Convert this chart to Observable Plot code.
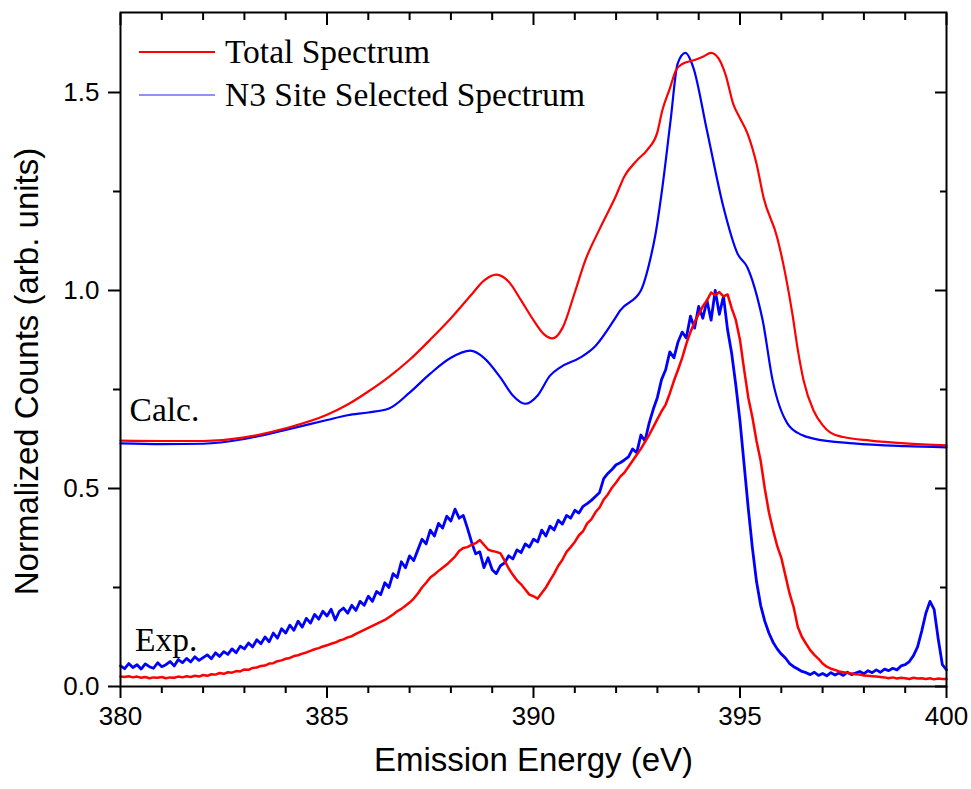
<!DOCTYPE html>
<html><head><meta charset="utf-8">
<script src="https://cdn.jsdelivr.net/npm/d3@7"></script>
<script src="https://cdn.jsdelivr.net/npm/@observablehq/plot@0.6"></script>
<style>
body{margin:0;background:#fff;}
#wrap{position:relative;width:971px;height:789px;}
#legend{position:absolute;left:0;top:0;pointer-events:none;}
</style></head><body><div id="wrap"></div>
<script>
// ---------- Calculated spectra ----------
const calcTotalEnergy = [380,381,382,383,384,385,385.5,386,386.5,387,387.5,388,388.5,388.8,389.1,389.4,389.7,390,390.25,390.46,390.7,391,391.25,391.6,392,392.2,392.5,392.76,393,393.12,393.3,393.45,393.6,393.9,394.1,394.3,394.48,394.65,394.84,395.0,395.18,395.4,395.57,395.9,396.1,396.27,396.4,396.54,396.78,397.0,397.19,397.5,398.16,399,400];
const calcTotal = [0.621,0.620,0.620,0.629,0.652,0.686,0.712,0.745,0.782,0.825,0.876,0.930,0.990,1.025,1.040,1.022,0.975,0.925,0.890,0.879,0.905,0.995,1.075,1.155,1.240,1.288,1.328,1.356,1.400,1.455,1.510,1.556,1.572,1.582,1.590,1.600,1.586,1.545,1.470,1.435,1.397,1.320,1.235,1.134,1.040,0.940,0.850,0.773,0.697,0.660,0.641,0.630,0.621,0.614,0.609];

const calcSiteEnergy = [380,381,382,383,384,385,385.5,386,386.5,387,387.5,388,388.47,388.8,389.2,389.5,389.8,390.1,390.4,390.65,391.14,391.5,391.94,392.1,392.6,392.83,392.95,393.12,393.32,393.49,393.68,393.87,394.2,394.6,394.94,395.18,395.42,395.55,395.79,396.15,396.5,396.78,397.75,399,400];
const calcSite = [0.614,0.612,0.613,0.625,0.648,0.673,0.685,0.692,0.702,0.742,0.790,0.830,0.848,0.830,0.780,0.735,0.714,0.735,0.785,0.806,0.831,0.860,0.924,0.950,1.000,1.080,1.140,1.260,1.430,1.573,1.600,1.563,1.404,1.210,1.093,1.058,0.982,0.924,0.773,0.664,0.635,0.626,0.614,0.607,0.604];

// ---------- Experimental spectra (0.1 eV grid) ----------
const expEnergy = [
380.0,380.1,380.2,380.3,380.4,380.5,380.6,380.7,380.8,380.9,
381.0,381.1,381.2,381.3,381.4,381.5,381.6,381.7,381.8,381.9,
382.0,382.1,382.2,382.3,382.4,382.5,382.6,382.7,382.8,382.9,
383.0,383.1,383.2,383.3,383.4,383.5,383.6,383.7,383.8,383.9,
384.0,384.1,384.2,384.3,384.4,384.5,384.6,384.7,384.8,384.9,
385.0,385.1,385.2,385.3,385.4,385.5,385.6,385.7,385.8,385.9,
386.0,386.1,386.2,386.3,386.4,386.5,386.6,386.7,386.8,386.9,
387.0,387.1,387.2,387.3,387.4,387.5,387.6,387.7,387.8,387.9,
388.0,388.1,388.2,388.3,388.4,388.5,388.6,388.7,388.8,388.9,
389.0,389.1,389.2,389.3,389.4,389.5,389.6,389.7,389.8,389.9,
390.0,390.1,390.2,390.3,390.4,390.5,390.6,390.7,390.8,390.9,
391.0,391.1,391.2,391.3,391.4,391.5,391.6,391.7,391.8,391.9,
392.0,392.1,392.2,392.3,392.4,392.5,392.6,392.7,392.8,392.9,
393.0,393.1,393.2,393.3,393.4,393.5,393.6,393.7,393.8,393.9,
394.0,394.1,394.2,394.3,394.4,394.5,394.6,394.7,394.8,394.9,
395.0,395.1,395.2,395.3,395.4,395.5,395.6,395.7,395.8,395.9,
396.0,396.1,396.2,396.3,396.4,396.5,396.6,396.7,396.8,396.9,
397.0,397.1,397.2,397.3,397.4,397.5,397.6,397.7,397.8,397.9,
398.0,398.1,398.2,398.3,398.4,398.5,398.6,398.7,398.8,398.9,
399.0,399.1,399.2,399.3,399.4,399.5,399.6,399.7,399.8,399.9,
400.0];
const expTotal = [
0.025,0.024,0.026,0.023,0.025,0.022,0.024,0.021,0.023,0.022,
0.024,0.021,0.023,0.022,0.025,0.023,0.026,0.024,0.027,0.025,
0.029,0.027,0.031,0.030,0.034,0.032,0.036,0.035,0.039,0.038,
0.043,0.042,0.047,0.048,0.052,0.053,0.058,0.059,0.064,0.066,
0.070,0.072,0.077,0.079,0.083,0.086,0.090,0.094,0.097,0.101,
0.104,0.108,0.111,0.116,0.119,0.124,0.127,0.133,0.138,0.143,
0.148,0.153,0.158,0.163,0.168,0.175,0.182,0.190,0.196,0.204,
0.212,0.222,0.235,0.250,0.262,0.275,0.283,0.292,0.300,0.308,
0.318,0.328,0.342,0.350,0.352,0.358,0.362,0.370,0.358,0.346,
0.342,0.340,0.336,0.318,0.298,0.282,0.268,0.258,0.245,0.232,
0.228,0.222,0.236,0.250,0.268,0.285,0.305,0.320,0.340,0.352,
0.365,0.382,0.392,0.412,0.422,0.440,0.452,0.472,0.485,0.502,
0.515,0.530,0.540,0.555,0.570,0.585,0.600,0.618,0.635,0.655,
0.675,0.695,0.712,0.740,0.772,0.800,0.830,0.865,0.895,0.920,
0.940,0.960,0.975,0.995,0.988,0.996,0.985,0.990,0.955,0.925,
0.875,0.800,0.730,0.680,0.620,0.570,0.500,0.440,0.395,0.355,
0.325,0.280,0.235,0.200,0.150,0.125,0.108,0.092,0.080,0.070,
0.058,0.050,0.045,0.042,0.038,0.036,0.034,0.033,0.031,0.030,
0.028,0.027,0.026,0.025,0.024,0.023,0.021,0.023,0.020,0.022,
0.021,0.019,0.022,0.020,0.021,0.019,0.021,0.018,0.020,0.019,
0.019];
const expSite = [
0.052,0.045,0.058,0.048,0.055,0.044,0.057,0.050,0.046,0.060,
0.050,0.055,0.063,0.052,0.068,0.060,0.071,0.062,0.075,0.066,
0.073,0.080,0.070,0.085,0.076,0.088,0.081,0.095,0.085,0.102,
0.095,0.110,0.100,0.118,0.108,0.125,0.113,0.135,0.122,0.146,
0.135,0.155,0.142,0.165,0.150,0.172,0.160,0.182,0.170,0.190,
0.178,0.195,0.168,0.190,0.198,0.185,0.205,0.192,0.215,0.205,
0.228,0.215,0.240,0.232,0.262,0.250,0.285,0.275,0.315,0.300,
0.330,0.318,0.345,0.372,0.360,0.395,0.380,0.412,0.400,0.430,
0.418,0.448,0.425,0.432,0.400,0.365,0.335,0.340,0.300,0.325,
0.295,0.285,0.305,0.312,0.330,0.322,0.345,0.338,0.360,0.352,
0.372,0.365,0.395,0.380,0.405,0.395,0.420,0.410,0.432,0.425,
0.445,0.438,0.455,0.462,0.470,0.480,0.490,0.525,0.538,0.548,
0.560,0.565,0.572,0.580,0.600,0.590,0.635,0.620,0.665,0.700,
0.730,0.775,0.800,0.845,0.830,0.870,0.895,0.880,0.935,0.905,
0.960,0.930,0.975,0.925,1.000,0.940,0.985,0.900,0.840,0.760,
0.670,0.560,0.450,0.350,0.265,0.205,0.165,0.135,0.112,0.095,
0.082,0.072,0.058,0.050,0.044,0.038,0.035,0.030,0.036,0.028,
0.033,0.027,0.035,0.029,0.034,0.028,0.036,0.030,0.034,0.038,
0.032,0.040,0.035,0.042,0.036,0.044,0.040,0.046,0.042,0.052,
0.055,0.063,0.078,0.100,0.140,0.185,0.215,0.195,0.120,0.055,
0.042];

// ---------- Ticks, labels ----------
const xMajorTicks = [380,385,390,395,400];
const xMinorTicks = [381,382,383,384,386,387,388,389,391,392,393,394,396,397,398,399];
const yMajorTicks = [0,0.5,1.0,1.5];
const yMinorTicks = [0.25,0.75,1.25];
const xTitle = "Emission Energy (eV)";
const yTitle = "Normalized Counts (arb. units)";
const annotations = [{label:"Calc.", x:380.22, y:0.697},{label:"Exp.", x:380.35, y:0.116}];
const legendLabels = ["Total Spectrum","N3 Site Selected Spectrum"];
const legendColors = ["#ff0000","#6a6aff"];

const toRows = (xs, ys) => xs.map((e,i)=>({e, v: ys[i]}));
const RED = "#ff0000", BLUE = "#0000ff";
const serif = "'Liberation Serif','Times New Roman',serif";

const plot = Plot.plot({
  width: 971, height: 789,
  marginLeft: 120, marginRight: 25, marginTop: 12, marginBottom: 103,
  style: {fontFamily: "'Liberation Sans', Arial, sans-serif", background: "#fff", color: "#000"},
  x: {domain: [380, 400]},
  y: {domain: [0, 1.702]},
  marks: [
    Plot.line(toRows(calcSiteEnergy, calcSite), {x:"e", y:"v", stroke:BLUE, strokeWidth:2.2, curve:"monotone-x"}),
    Plot.line(toRows(calcTotalEnergy, calcTotal), {x:"e", y:"v", stroke:RED, strokeWidth:2.2, curve:"monotone-x"}),
    Plot.line(toRows(expEnergy, expSite), {x:"e", y:"v", stroke:BLUE, strokeWidth:2.8, strokeLinejoin:"round"}),
    Plot.line(toRows(expEnergy, expTotal), {x:"e", y:"v", stroke:RED, strokeWidth:2.5, strokeLinejoin:"round"}),
    Plot.text(annotations, {x:"x", y:"y", text:"label", textAnchor:"start", fontFamily:serif, fontSize:33.5, fill:"#000"}),
    // bottom axis
    Plot.axisX({anchor:"bottom", ticks:xMajorTicks, tickSize:12, tickPadding:8, tickFormat:d=>String(d), fontSize:26, strokeWidth:2, label:null}),
    Plot.axisX({anchor:"bottom", ticks:xMinorTicks, tickSize:7, tickFormat:()=>"", strokeWidth:2, label:null}),
    // top axis (inward)
    Plot.axisX({anchor:"top", ticks:xMajorTicks, tickSize:12, insetTop:12, tickFormat:()=>"", strokeWidth:2, label:null}),
    Plot.axisX({anchor:"top", ticks:xMinorTicks, tickSize:7, insetTop:7, tickFormat:()=>"", strokeWidth:2, label:null}),
    // left axis
    Plot.axisY({anchor:"left", ticks:yMajorTicks, tickSize:12, tickPadding:9, tickFormat:d3.format(".1f"), fontSize:26, strokeWidth:2, label:null}),
    Plot.axisY({anchor:"left", ticks:yMinorTicks, tickSize:7, tickFormat:()=>"", strokeWidth:2, label:null}),
    // right axis (inward)
    Plot.axisY({anchor:"right", ticks:yMajorTicks, tickSize:12, insetRight:12, tickFormat:()=>"", strokeWidth:2, label:null}),
    Plot.axisY({anchor:"right", ticks:yMinorTicks, tickSize:7, insetRight:7, tickFormat:()=>"", strokeWidth:2, label:null}),
    Plot.frame({stroke:"#000", strokeWidth:2}),
    Plot.text([xTitle], {text:d=>d, frameAnchor:"bottom", textAnchor:"middle", dy:84, fontSize:33, fill:"#000"}),
    Plot.text([yTitle], {text:d=>d, frameAnchor:"left", textAnchor:"middle", rotate:-90, dx:-93, dy:22, fontSize:33, fill:"#000"})
  ]
});

const wrap = document.getElementById("wrap");
wrap.appendChild(plot);

// Legend overlay
const ns = "http://www.w3.org/2000/svg";
const lg = document.createElementNS(ns, "svg");
lg.setAttribute("id","legend"); lg.setAttribute("width","971"); lg.setAttribute("height","789");
legendLabels.forEach((lab, i) => {
  const yy = 52 + i*43;
  const ln = document.createElementNS(ns, "line");
  ln.setAttribute("x1", 139); ln.setAttribute("x2", 215);
  ln.setAttribute("y1", yy); ln.setAttribute("y2", yy);
  ln.setAttribute("stroke", legendColors[i]); ln.setAttribute("stroke-width", i===0 ? 2.2 : 1.6);
  lg.appendChild(ln);
  const tx = document.createElementNS(ns, "text");
  tx.setAttribute("x", 225); tx.setAttribute("y", yy); tx.setAttribute("dy", "0.33em");
  tx.setAttribute("font-family", serif); tx.setAttribute("font-size", 33.5);
  tx.setAttribute("fill", "#000");
  tx.textContent = lab;
  lg.appendChild(tx);
});
wrap.appendChild(lg);
</script>
</body></html>
